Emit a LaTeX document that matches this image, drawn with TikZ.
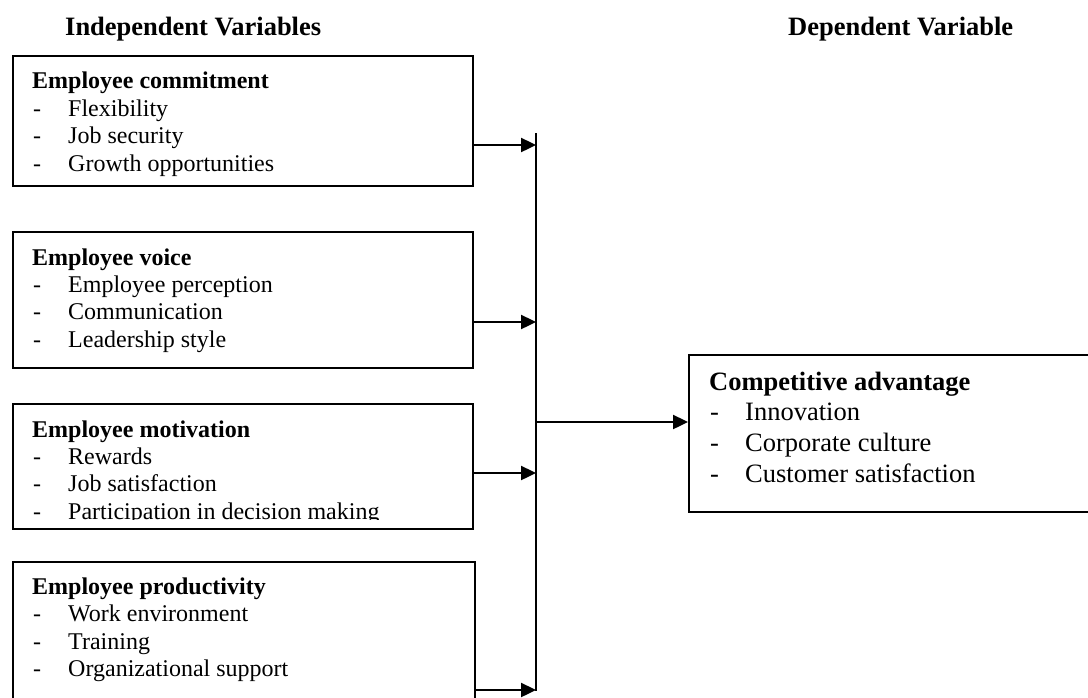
\documentclass[tikz,border=0pt]{standalone}
\usepackage{fontspec}
\setmainfont{Liberation Serif}
\usetikzlibrary{arrows.meta}
\tikzset{
  box/.style={draw=black, line width=1.8pt, rectangle, inner sep=0pt, anchor=north west},
  ltxt/.style={anchor=base west, inner sep=0pt, font=\fontsize{24}{28}\selectfont},
  rtxt/.style={anchor=base west, inner sep=0pt, font=\fontsize{26.5}{31}\selectfont},
  conn/.style={line width=2.4pt, line cap=butt},
  arr/.style={conn, -{Triangle[length=15pt,width=14pt]}}
}
\newcommand{\itm}[2][35pt]{\makebox[#1][l]{-}#2}
\begin{document}
\begin{tikzpicture}[x=1pt,y=-1pt]
\useasboundingbox (0,0) rectangle (1088,697);
\clip (0,0) rectangle (1088,697);
\fill[white] (0,0) rectangle (1088,697);

% headers
\node[rtxt] (hi) at (65,35) {\textbf{Independent Variables}};
\node[rtxt] (hd) at (788,35) {\textbf{Dependent Variable}};

% boxes
\node[box, minimum width=460pt, minimum height=130pt] (b1) at (12,55) {};
\node[box, minimum width=460pt, minimum height=136pt] (b2) at (12,231) {};
\node[box, minimum width=460pt, minimum height=125pt] (b3) at (12,403) {};
\node[box, minimum width=462pt, minimum height=160pt] (b4) at (12,561) {};
\node[box, minimum width=440pt, minimum height=157pt] (out) at (688,354) {};

% box 1 text
\node[ltxt] (t1h) at (32,88) {\textbf{Employee commitment}};
\node[ltxt] (t1a) at (33,116) {\itm{Flexibility}};
\node[ltxt] (t1b) at (33,143) {\itm{Job security}};
\node[ltxt] (t1c) at (33,171) {\itm{Growth opportunities}};

% box 2 text
\node[ltxt] (t2h) at (32,265) {\textbf{Employee voice}};
\node[ltxt] (t2a) at (33,292) {\itm{Employee perception}};
\node[ltxt] (t2b) at (33,319) {\itm{Communication}};
\node[ltxt] (t2c) at (33,347) {\itm{Leadership style}};

% box 3 text
\node[ltxt] (t3h) at (32,437) {\textbf{Employee motivation}};
\node[ltxt] (t3a) at (33,464) {\itm{Rewards}};
\node[ltxt] (t3b) at (33,491) {\itm{Job satisfaction}};
\begin{scope}
\clip (14,495) rectangle (470,519.5);
\node[ltxt] (t3c) at (33,519) {\itm{Participation in decision making}};
\end{scope}

% box 4 text
\node[ltxt] (t4h) at (32,594) {\textbf{Employee productivity}};
\node[ltxt] (t4a) at (33,621) {\itm{Work environment}};
\node[ltxt] (t4b) at (33,649) {\itm{Training}};
\node[ltxt] (t4c) at (33,676) {\itm{Organizational support}};

% output box text
\node[rtxt] (toh) at (709,390) {\textbf{Competitive advantage}};
\node[rtxt] (toa) at (710,420) {\itm[35pt]{Innovation}};
\node[rtxt] (tob) at (710,451) {\itm[35pt]{Corporate culture}};
\node[rtxt] (toc) at (710,482) {\itm[35pt]{Customer satisfaction}};

% bus
\coordinate (bt) at (536,133);
\coordinate (bb) at (536,691);
\coordinate (j1) at (536,145);
\coordinate (j2) at (536,322);
\coordinate (j3) at (536,473);
\coordinate (j4) at (536,690);
\coordinate (jm) at (536,422);
\draw[conn] (bt) -- (bb);
\draw[arr] (b1.east |- j1) -- (j1);
\draw[arr] (b2.east |- j2) -- (j2);
\draw[arr] (b3.east |- j3) -- (j3);
\draw[arr] (b4.east |- j4) -- (j4);
\draw[arr] (jm) -- (out.west |- jm);
\end{tikzpicture}
\end{document}
